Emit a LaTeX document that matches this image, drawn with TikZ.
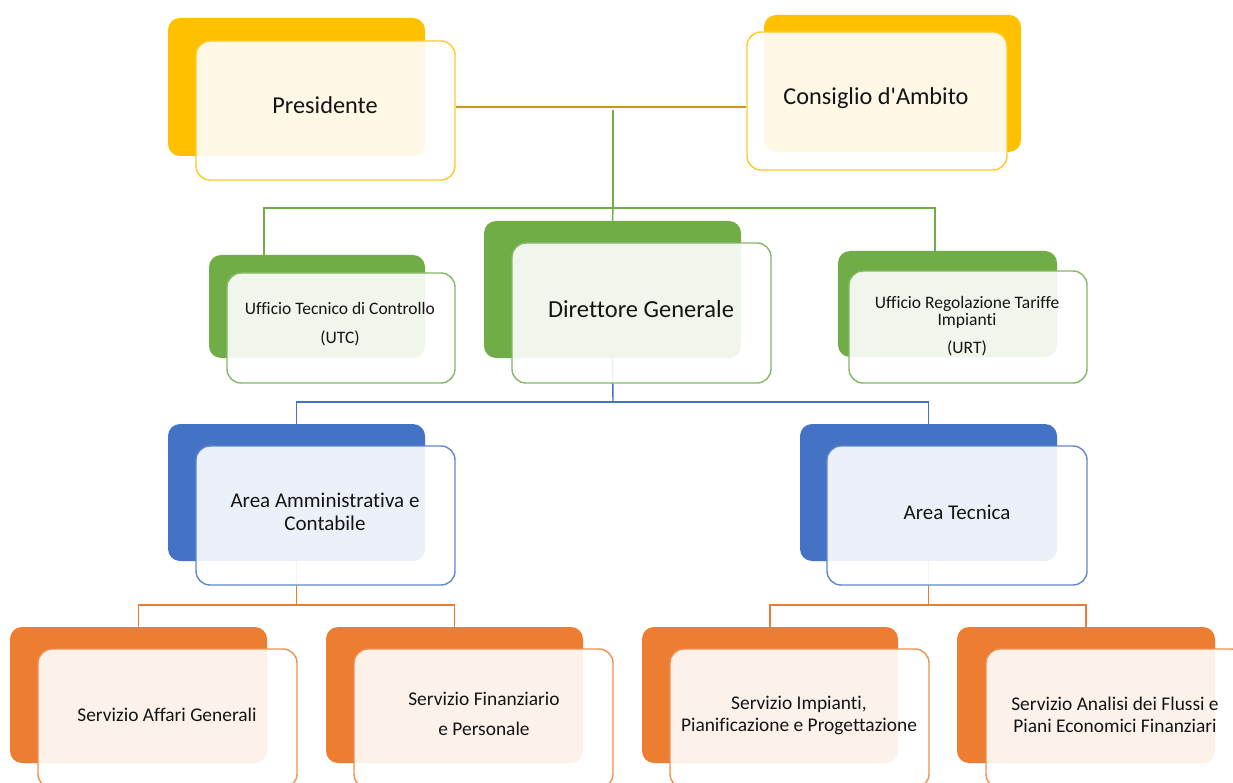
\documentclass[tikz,border=0pt]{standalone}
\usepackage{fontspec}
\setmainfont{Carlito}[Ligatures={NoCommon}]
\usetikzlibrary{backgrounds}
\definecolor{yel}{HTML}{FFC000}
\definecolor{grn}{HTML}{70AD47}
\definecolor{blu}{HTML}{4472C4}
\definecolor{org}{HTML}{ED7D31}
\definecolor{gold}{HTML}{C8961E}
\definecolor{txt}{HTML}{141414}
\tikzset{
  backbox/.style={fill=#1, draw=none, rounded corners=12pt, inner sep=0pt},
  frontbox/.style={fill=white, fill opacity=0.9, draw=#1!85!white, line width=1.4pt, rounded corners=14pt, inner sep=0pt},
  lbl/.style={align=center, text=txt, inner sep=0pt},
  conn/.style={draw=#1, line width=1.4pt},
}
\begin{document}
\begin{tikzpicture}[x=1pt,y=-1pt]
\useasboundingbox (0,0) rectangle (1233,783);
\clip (0,0) rectangle (1233,783);
% Presidente
\node[backbox=yel, minimum width=257pt, minimum height=138pt] (presB) at (296.5,87) {};
\node[frontbox=yel, minimum width=259pt, minimum height=139pt] (pres) at (325.5,110.5) {};
\node[lbl, font=\fontsize{24.3}{28}\selectfont] (presT) at (325,105) {Presidente};
% Consiglio
\node[backbox=yel, minimum width=257pt, minimum height=137pt] (consB) at (892.5,83.5) {};
\node[frontbox=yel, minimum width=260pt, minimum height=138pt] (cons) at (877,101) {};
\node[lbl, font=\fontsize{24.3}{28}\selectfont] (consT) at (876,98) {Consiglio d\textquotesingle Ambito};
% UTC
\node[backbox=grn, minimum width=216pt, minimum height=103pt] (utcB) at (317,306.5) {};
\node[frontbox=grn, minimum width=228pt, minimum height=110pt] (utc) at (341,328) {};
\node[lbl, font=\fontsize{17.5}{18}\selectfont] (utcT) at (340,324) {Ufficio Tecnico di Controllo\\[11pt](UTC)};
% Direttore
\node[backbox=grn, minimum width=257pt, minimum height=137pt] (dirB) at (612.5,289.5) {};
\node[frontbox=grn, minimum width=259pt, minimum height=140pt] (dir) at (641.5,313) {};
\node[lbl, font=\fontsize{24.5}{28}\selectfont] (dirT) at (641,309) {Direttore Generale};
% URT
\node[backbox=grn, minimum width=219pt, minimum height=106pt] (urtB) at (947.5,304) {};
\node[frontbox=grn, minimum width=238pt, minimum height=112pt] (urt) at (968,327) {};
\node[lbl, font=\fontsize{17.5}{17}\selectfont] (urtT) at (967,326.5) {Ufficio Regolazione Tariffe\\Impianti\\[11pt](URT)};
% Area Amministrativa
\node[backbox=blu, minimum width=257pt, minimum height=137pt] (ammB) at (296.5,492.5) {};
\node[frontbox=blu, minimum width=259pt, minimum height=139pt] (amm) at (325.5,515.5) {};
\node[lbl, font=\fontsize{21}{23}\selectfont] (ammT) at (325,511.5) {Area Amministrativa e\\Contabile};
% Area Tecnica
\node[backbox=blu, minimum width=257pt, minimum height=137pt] (tecB) at (928.5,492.5) {};
\node[frontbox=blu, minimum width=260pt, minimum height=139pt] (tec) at (957,515.5) {};
\node[lbl, font=\fontsize{21}{23}\selectfont] (tecT) at (957,512) {Area Tecnica};
% Servizi
\node[backbox=org, minimum width=257pt, minimum height=136pt] (sagB) at (138.5,695) {};
\node[frontbox=org, minimum width=259pt, minimum height=139pt] (sag) at (167.5,718.5) {};
\node[lbl, font=\fontsize{19.4}{22}\selectfont] (sagT) at (167,715) {Servizio Affari Generali};
\node[backbox=org, minimum width=257pt, minimum height=136pt] (sfpB) at (454.5,695) {};
\node[frontbox=org, minimum width=259pt, minimum height=139pt] (sfp) at (483.5,718.5) {};
\node[lbl, font=\fontsize{19.4}{22}\selectfont] (sfpT) at (484,714) {Servizio Finanziario\\[8pt]e Personale};
\node[backbox=org, minimum width=256pt, minimum height=136pt] (sipB) at (770,695) {};
\node[frontbox=org, minimum width=259pt, minimum height=139pt] (sip) at (799.5,718.5) {};
\node[lbl, font=\fontsize{19.4}{22}\selectfont] (sipT) at (799,715) {Servizio Impianti,\\Pianificazione e Progettazione};
\node[backbox=org, minimum width=258pt, minimum height=136pt] (safB) at (1086,695) {};
\node[frontbox=org, minimum width=259pt, minimum height=139pt] (saf) at (1115.5,718.5) {};
\node[lbl, font=\fontsize{19.4}{22}\selectfont] (safT) at (1115,715) {Servizio Analisi dei Flussi e\\Piani Economici Finanziari};
% connectors
\begin{pgfonlayer}{background}
\fill[white] (0,0) rectangle (1233,783);
\coordinate (jt) at (613,107);
\coordinate (jg) at (613,208);
\coordinate (xU) at (264,208);
\coordinate (xR) at (935,208);
\coordinate (jb) at (613,402);
\coordinate (jl) at (296.5,605);
\coordinate (jr) at (928.5,605);
\draw[conn=gold] (pres.east |- jt) -- (cons.west |- jt);
\draw[conn=grn] (613,110) -- (jg);
\draw[conn=grn] (xU |- utcB.north) -- (xU) -- (xR) -- (xR |- urtB.north);
\draw[conn=grn] (jg) -- (dirB.north);
\draw[conn=blu] (dirB.south) -- (jb);
\draw[conn=blu] (ammB.north) -- (ammB.north |- jb) -- (tecB.north |- jb) -- (tecB.north);
\draw[conn=org] (ammB.south) -- (jl);
\draw[conn=org] (sagB.north) -- (sagB.north |- jl) -- (sfpB.north |- jl) -- (sfpB.north);
\draw[conn=org] (tecB.south) -- (jr);
\draw[conn=org] (sipB.north) -- (sipB.north |- jr) -- (safB.north |- jr) -- (safB.north);
\end{pgfonlayer}
\end{tikzpicture}
\end{document}
